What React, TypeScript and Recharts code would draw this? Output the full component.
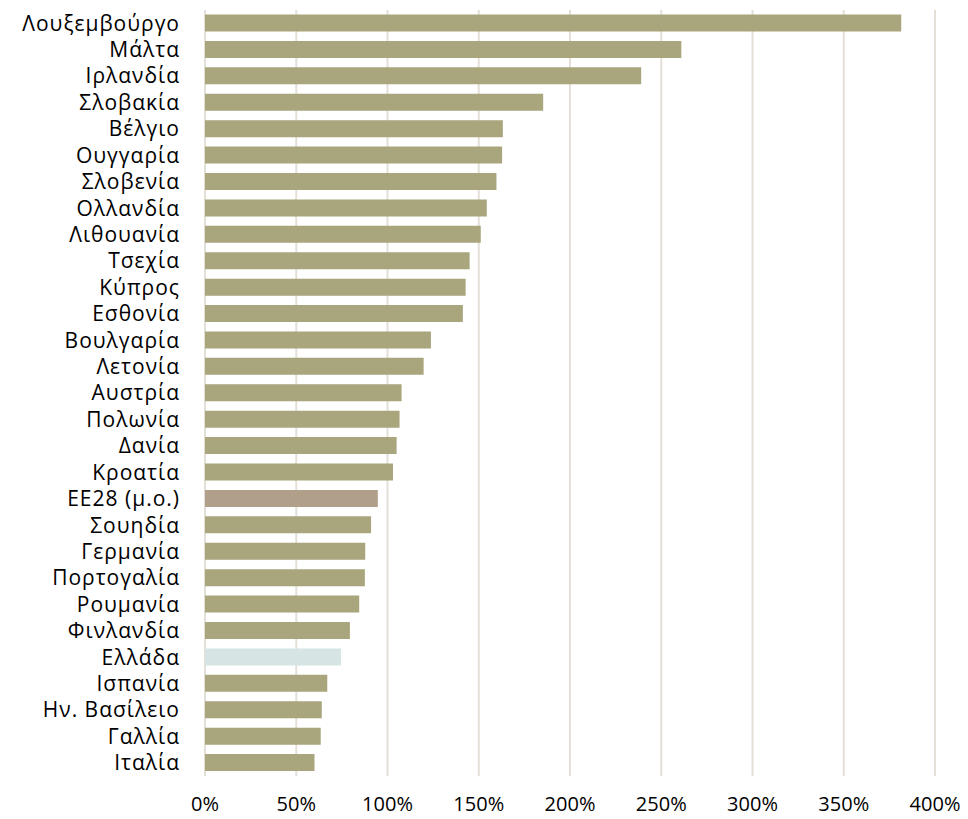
import { BarChart, Bar, Cell, XAxis, YAxis, CartesianGrid } from 'recharts';

// Countries, top to bottom
const countries = [
  'Λουξεμβούργο', 'Μάλτα', 'Ιρλανδία', 'Σλοβακία', 'Βέλγιο', 'Ουγγαρία', 'Σλοβενία',
  'Ολλανδία', 'Λιθουανία', 'Τσεχία', 'Κύπρος', 'Εσθονία', 'Βουλγαρία', 'Λετονία',
  'Αυστρία', 'Πολωνία', 'Δανία', 'Κροατία', 'ΕΕ28 (μ.ο.)', 'Σουηδία', 'Γερμανία',
  'Πορτογαλία', 'Ρουμανία', 'Φινλανδία', 'Ελλάδα', 'Ισπανία', 'Ην. Βασίλειο', 'Γαλλία', 'Ιταλία',
];

// Values in percent
const values = [
  381.5, 261, 239, 185.3, 163.2, 162.8, 159.7,
  154.4, 151.1, 145, 142.8, 141.3, 123.8, 119.8,
  107.7, 106.6, 105, 103, 94.7, 91, 87.8,
  87.6, 84.5, 79.4, 74.5, 67, 64, 63.4, 60,
];

const xTicks = [0, 50, 100, 150, 200, 250, 300, 350, 400];

const BAR_COLOR = '#A9A57C';
const AVG_COLOR = '#B0A08A';
const GREECE_COLOR = '#D6E4E4';

const data = countries.map((name, i) => ({ name, value: values[i] }));

const colorFor = (name: string) => {
  if (name === 'ΕΕ28 (μ.ο.)') return AVG_COLOR;
  if (name === 'Ελλάδα') return GREECE_COLOR;
  return BAR_COLOR;
};

const yTickStyle = { fontFamily: '"Open Sans", sans-serif', fontSize: 21, fill: '#000', letterSpacing: 1 };
const xTickStyle = { fontFamily: '"Open Sans", sans-serif', fontSize: 20, fill: '#000' };

const App = () => {
  return (
    <div style={{ position: 'absolute', left: 0, top: 0, background: '#fff' }}>
      <BarChart
        width={968}
        height={819}
        data={data}
        layout="vertical"
        margin={{ top: 10, right: 33, bottom: 0, left: 0 }}
        barCategoryGap="17%"
      >
        <CartesianGrid horizontal={false} stroke="#E4E0D8" strokeWidth={2} />
        <XAxis
          type="number"
          domain={[0, 400]}
          ticks={xTicks}
          tickFormatter={(v) => `${v}%`}
          axisLine={false}
          tickLine={false}
          tickSize={0}
          tickMargin={21}
          height={43}
          tick={xTickStyle}
        />
        <YAxis
          type="category"
          dataKey="name"
          width={205}
          axisLine={false}
          tickLine={false}
          tickSize={0}
          tickMargin={25}
          interval={0}
          tick={yTickStyle}
        />
        <Bar dataKey="value" isAnimationActive={false}>
          {data.map((d) => (
            <Cell key={d.name} fill={colorFor(d.name)} />
          ))}
        </Bar>
      </BarChart>
    </div>
  );
};

export default App;
